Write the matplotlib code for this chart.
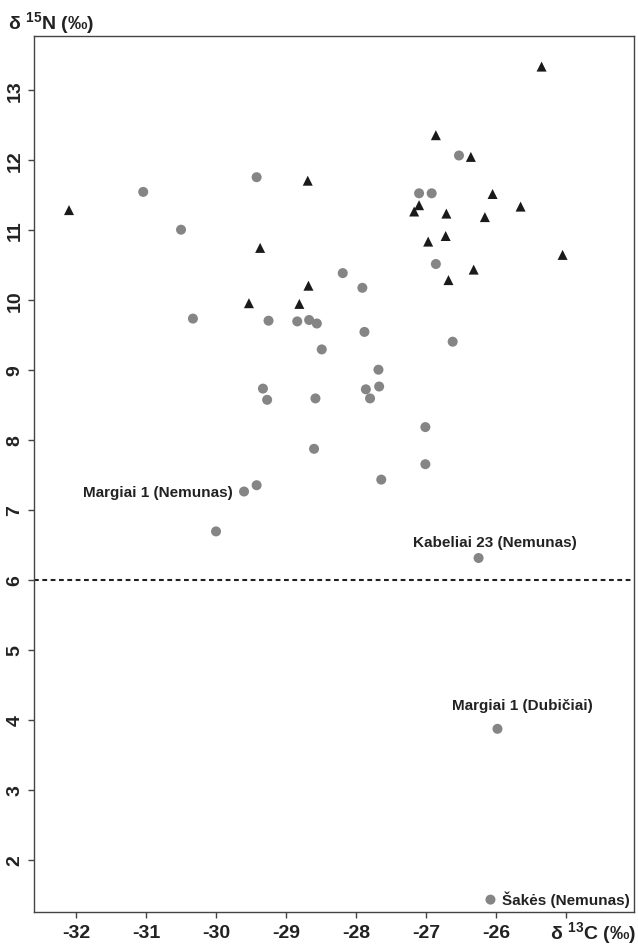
import matplotlib
matplotlib.use("Agg")
import matplotlib.pyplot as plt

plt.rcParams["font.family"] = ["Liberation Sans", "DejaVu Sans"]
plt.rcParams["font.weight"] = "bold"
plt.rcParams["mathtext.fontset"] = "custom"
plt.rcParams["mathtext.rm"] = "Liberation Sans:bold"
plt.rcParams["mathtext.it"] = "Liberation Sans:bold"
plt.rcParams["mathtext.bf"] = "Liberation Sans:bold"

# humans (grey circles): d13C, d15N
human_c = [-31.04, -30.50, -29.42, -30.33, -28.19, -27.91, -29.25, -28.84,
           -28.67, -28.56, -27.88, -28.49, -27.68, -29.33, -29.27, -28.58,
           -27.86, -27.67, -27.80, -27.01, -28.60, -27.01, -27.64, -29.42,
           -29.60, -30.00, -26.53, -27.10, -26.92, -26.86, -26.62, -26.25,
           -25.98, -26.08]
human_n = [11.54, 11.00, 11.75, 9.73, 10.38, 10.17, 9.70, 9.69,
           9.71, 9.66, 9.54, 9.29, 9.00, 8.73, 8.57, 8.59,
           8.72, 8.76, 8.59, 8.18, 7.87, 7.65, 7.43, 7.35,
           7.26, 6.69, 12.06, 11.52, 11.52, 10.51, 9.40, 6.31,
           3.87, 1.43]

# fauna (black triangles)
fauna_c = [-32.10, -28.69, -29.37, -28.68, -29.53, -28.81, -25.35, -26.86,
           -26.36, -26.05, -25.65, -27.10, -27.17, -26.71, -26.16, -26.72,
           -26.97, -25.05, -26.32, -26.68]
fauna_n = [11.28, 11.70, 10.74, 10.20, 9.95, 9.94, 13.33, 12.35,
           12.04, 11.51, 11.33, 11.35, 11.26, 11.23, 11.18, 10.91,
           10.83, 10.64, 10.43, 10.28]

# named individuals (index into the human lists)
label_names = ["Margiai 1 (Nemunas)", "Kabeliai 23 (Nemunas)",
               "Margiai 1 (Dubičiai)", "Šakės (Nemunas)"]
label_index = [24, 31, 32, 33]

threshold = 6.0

x_ticks = [-32, -31, -30, -29, -28, -27, -26, -25]
x_tick_labels = ["-32", "-31", "-30", "-29", "-28", "-27", "-26", ""]
y_ticks = list(range(2, 14))

W, H = 638, 945
fig = plt.figure(figsize=(W / 100, H / 100), dpi=100)
ax = fig.add_axes([34 / W, (H - 913.3) / H, (634 - 34) / W, (913.3 - 37) / H])

ax.axhline(threshold, color="#222222", lw=1.5, dashes=(2.3, 1.7), zorder=1)

ax.scatter(human_c, human_n, s=52, marker="o", color="#858585",
           edgecolors="none", zorder=3)
ax.scatter(fauna_c, fauna_n, s=52, marker="^", color="#1a1a1a",
           edgecolors="none", zorder=3)

# text offsets in points, alignment
label_style = [((-8, 0), "right"), ((11.7, 11.7), "center"),
               ((17.6, 16.8), "center"), ((8.2, 0.5), "left")]
for name, i, (off, ha) in zip(label_names, label_index, label_style):
    ax.annotate(name, (human_c[i], human_n[i]), xytext=off,
                textcoords="offset points", ha=ha, va="center",
                fontsize=11, fontweight="bold", color="#222222")

ax.set_xlim(-32.6, -24.03)
ax.set_ylim(1.249, 13.767)
ax.set_xticks(x_ticks)
ax.set_xticklabels(x_tick_labels)
ax.set_yticks(y_ticks)
ax.set_yticklabels([str(v) for v in y_ticks], rotation=90, va="center")

for sp in ax.spines.values():
    sp.set_color("#444444")
    sp.set_linewidth(1.0)
ax.tick_params(length=4.3, width=1.0, color="#444444", labelsize=14,
               labelcolor="#222222")
ax.tick_params(axis="x", pad=4)
ax.tick_params(axis="y", pad=3.4)

fig.text(8 / W, 1 - 22.7 / H, "δ $^{15}$N (‰)", ha="left", va="center",
         fontsize=14, fontweight="bold", color="#222222")
fig.text(636 / W, 1 - 932.7 / H, "δ $^{13}$C (‰)", ha="right", va="center",
         fontsize=14, fontweight="bold", color="#222222")

fig.savefig("out.png", dpi=100)
